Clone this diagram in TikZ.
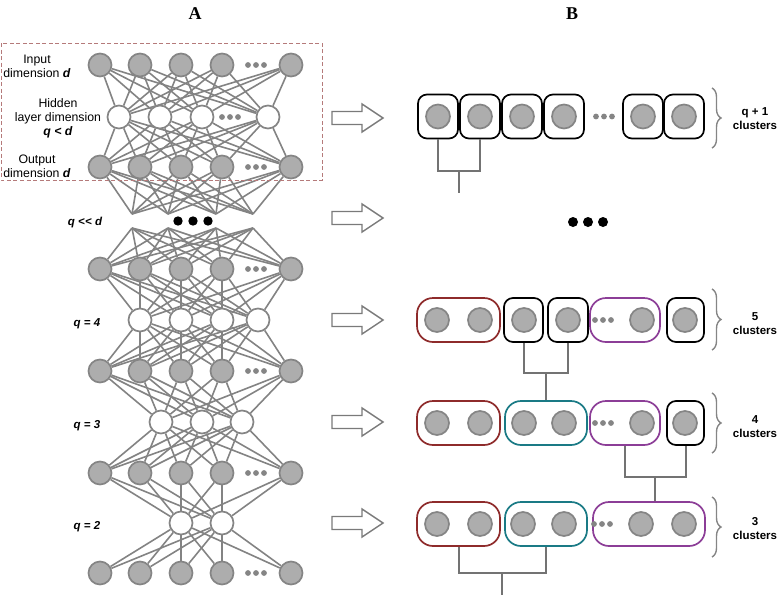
\documentclass[tikz,border=0pt]{standalone}
\usepackage{fontspec}
\setmainfont{Liberation Sans}
\newfontfamily\titlefont{Liberation Serif}
\usetikzlibrary{calc,backgrounds,decorations.pathreplacing}
\definecolor{edgegray}{HTML}{838383}
\definecolor{nodefill}{HTML}{ADADAD}
\definecolor{nodeline}{HTML}{858585}
\definecolor{boxred}{HTML}{8E2B2B}
\definecolor{boxteal}{HTML}{1A7A85}
\definecolor{boxpurple}{HTML}{8C3E97}
\definecolor{dashred}{HTML}{B57A7A}
\definecolor{dendro}{HTML}{737373}
\definecolor{arrowgray}{HTML}{7A7A7A}
\begin{document}
\begin{tikzpicture}[x=1pt,y=-1pt,
  gn/.style={circle, minimum size=23pt, inner sep=0pt, fill=nodefill, draw=nodeline, line width=1.7pt},
  wn/.style={gn, fill=white},
  bn/.style={gn, minimum size=24pt},
  edge/.style={draw=edgegray, line width=1.6pt},
  lab/.style={font=\fontsize{12.3}{14}\selectfont, align=center, inner sep=0pt},
  qlab/.style={font=\fontsize{11.5}{14}\selectfont\bfseries\itshape, inner sep=0pt},
  clab/.style={font=\fontsize{11.5}{14}\selectfont\bfseries, align=center, inner sep=0pt},
  ttl/.style={font=\titlefont\bfseries\fontsize{18}{18}\selectfont, inner sep=0pt},
  kbox/.style={draw=black, line width=1.7pt, rounded corners=9pt, minimum height=44pt, inner sep=0pt},
  rbox/.style={kbox, rounded corners=16pt, draw=boxred},
  tbox/.style={kbox, rounded corners=16pt, draw=boxteal},
  pbox/.style={kbox, rounded corners=16pt, draw=boxpurple},
  dendro/.style={draw=dendro, line width=2pt},
  blockarrow/.style={draw=arrowgray, line width=1.4pt, fill=white},
  brc/.style={draw=nodeline, line width=1.4pt, decorate, decoration={brace, amplitude=9pt}}
]
\useasboundingbox (0,0) rectangle (779,595);

% titles
\node[ttl] (tA) at (195,14) {A};
\node[ttl] (tB) at (572,14) {B};

% ---------- network (A) ----------
\foreach \n/\y in {1/65,2/167,3/269,4/371,5/473,6/573} {
  \foreach \x [count=\i] in {100,140,181,222,291}
    \node[gn] (L\n-\i) at (\x,\y) {};
  \foreach \d in {-8,0,8}
    \fill[nodeline] (256+\d,\y) circle (2.9);
}
\foreach \x [count=\i] in {119,160,202,268}
  \node[wn] (H1-\i) at (\x,117) {};
\foreach \d in {-8,0,8}
  \fill[nodeline] (230+\d,117) circle (2.9);
\foreach \x [count=\i] in {140,181,222,258}
  \node[wn] (H4-\i) at (\x,320) {};
\foreach \x [count=\i] in {161,202,242}
  \node[wn] (H3-\i) at (\x,422) {};
\foreach \x [count=\i] in {181,222}
  \node[wn] (H2-\i) at (\x,523) {};
\foreach \x [count=\i] in {132,168,216,253} {
  \coordinate (T-\i) at (\x,214);
  \coordinate (B-\i) at (\x,228);
}
\foreach \x [count=\i] in {178,193,208}
  \fill (\x,221) circle (4.7);

\begin{scope}[on background layer]
\foreach \i in {1,...,5} {
  \foreach \j in {1,...,4} {
    \draw[edge] (L1-\i) -- (H1-\j);
    \draw[edge] (H1-\j) -- (L2-\i);
    \draw[edge] (L2-\i) -- (T-\j);
    \draw[edge] (B-\j) -- (L3-\i);
    \draw[edge] (L3-\i) -- (H4-\j);
    \draw[edge] (H4-\j) -- (L4-\i);
  }
  \foreach \j in {1,2,3} {
    \draw[edge] (L4-\i) -- (H3-\j);
    \draw[edge] (H3-\j) -- (L5-\i);
  }
  \foreach \j in {1,2} {
    \draw[edge] (L5-\i) -- (H2-\j);
    \draw[edge] (H2-\j) -- (L6-\i);
  }
}
\end{scope}

\draw[dashred, line width=1pt, dash pattern=on 4pt off 2.5pt] (1,43) rectangle (322,180);

% labels A
\node[lab] (lin) at (37,66) {Input\\dimension \textbf{\textit{d}}};
\node[lab] (lhid) at (58,118) {Hidden\\layer dimension\\\textbf{\textit{q < d}}};
\node[lab] (lout) at (37,166) {Output\\dimension \textbf{\textit{d}}};
\node[qlab] (lq0) at (85,223) {q <\kern0.3pt< d};
\node[qlab] (lq4) at (87,324) {q = 4};
\node[qlab] (lq3) at (87,426) {q = 3};
\node[qlab] (lq2) at (87,527) {q = 2};

% ---------- arrows ----------
\foreach \y in {118,218,320,422,523}
  \draw[blockarrow] (332,\y-6.5) -- (362,\y-6.5) -- (362,\y-14) -- (383,\y)
     -- (362,\y+14) -- (362,\y+6.5) -- (332,\y+6.5) -- cycle;

% ---------- clusters (B) ----------
% row q+1
\foreach \x [count=\i] in {438,480,522,564,643,684} {
  \node[kbox, minimum width=40pt] (A1-\i) at (\x,116.5) {};
  \node[bn] (c1-\i) at (\x,116.5) {};
}
\foreach \d in {-8,0,8} \fill[nodeline] (604+\d,116.5) circle (2.9);

% middle dots
\foreach \x in {573,588,603} \fill (\x,222) circle (5);

% row 5 clusters
\node[rbox, minimum width=83pt] (R5a) at (458.5,320) {};
\node[kbox, minimum width=39pt] (R5b) at (523.5,320) {};
\node[kbox, minimum width=40pt] (R5c) at (568,320) {};
\node[pbox, minimum width=70pt] (R5d) at (625,320) {};
\node[kbox, minimum width=37pt] (R5e) at (685.5,320) {};
\foreach \x [count=\i] in {437,480,524,568,642,685}
  \node[bn] (c5-\i) at (\x,320) {};
\foreach \d in {-8,0,8} \fill[nodeline] (603+\d,320) circle (2.9);

% row 4 clusters
\node[rbox, minimum width=83pt] (R4a) at (458.5,423) {};
\node[tbox, minimum width=82pt] (R4b) at (546,423) {};
\node[pbox, minimum width=70pt] (R4c) at (625,423) {};
\node[kbox, minimum width=37pt] (R4d) at (685.5,423) {};
\foreach \x [count=\i] in {437,480,524,564,642,685}
  \node[bn] (c4-\i) at (\x,423) {};
\foreach \d in {-8,0,8} \fill[nodeline] (603+\d,423) circle (2.9);

% row 3 clusters
\node[rbox, minimum width=83pt] (R3a) at (458.5,524) {};
\node[tbox, minimum width=82pt] (R3b) at (546,524) {};
\node[pbox, minimum width=112pt] (R3c) at (649,524) {};
\foreach \x [count=\i] in {437,480,523,564,641,684}
  \node[bn] (c3-\i) at (\x,524) {};
\foreach \d in {-8,0,8} \fill[nodeline] (602+\d,524) circle (2.9);

% dendrogram links
\draw[dendro] (A1-1.south) -- ++(0,32) coordinate (d1l) -| (A1-2.south);
\coordinate (d1m) at ($(d1l)!0.5!(d1l -| A1-2.south)$);
\coordinate (d1e) at ($(d1m)+(0,22)$);
\draw[dendro] (d1m) -- (d1e);

\draw[dendro] (R5b.south) -- ++(0,30) coordinate (d2l) -| (R5c.south);
\coordinate (d2m) at ($(d2l)!0.5!(d2l -| R5c.south)$);
\draw[dendro] (d2m) -- (d2m |- R4b.north);

\draw[dendro] (R4c.south) -- ++(0,31) coordinate (d3l) -| (R4d.south);
\coordinate (d3m) at ($(d3l)!0.5!(d3l -| R4d.south)$);
\draw[dendro] (d3m) -- (d3m |- R3c.north);

\draw[dendro] (R3a.south) -- ++(0,26) coordinate (d4l) -| (R3b.south);
\coordinate (d4m) at ($(d4l)!0.5!(d4l -| R3b.south)$);
\coordinate (d4e) at (d4m |- 0,595);
\draw[dendro] (d4m) -- (d4e);

% braces and labels
\draw[brc] (712,88) -- (712,148);
\draw[brc] (712,289) -- (712,350);
\draw[brc] (712,393) -- (712,453);
\draw[brc] (712,497) -- (712,557);
\node[clab] (k1) at (755,119) {q + 1\\clusters};
\node[clab] (k5) at (755,324) {5\\clusters};
\node[clab] (k4) at (755,427) {4\\clusters};
\node[clab] (k3) at (755,529) {3\\clusters};
\end{tikzpicture}
\end{document}
